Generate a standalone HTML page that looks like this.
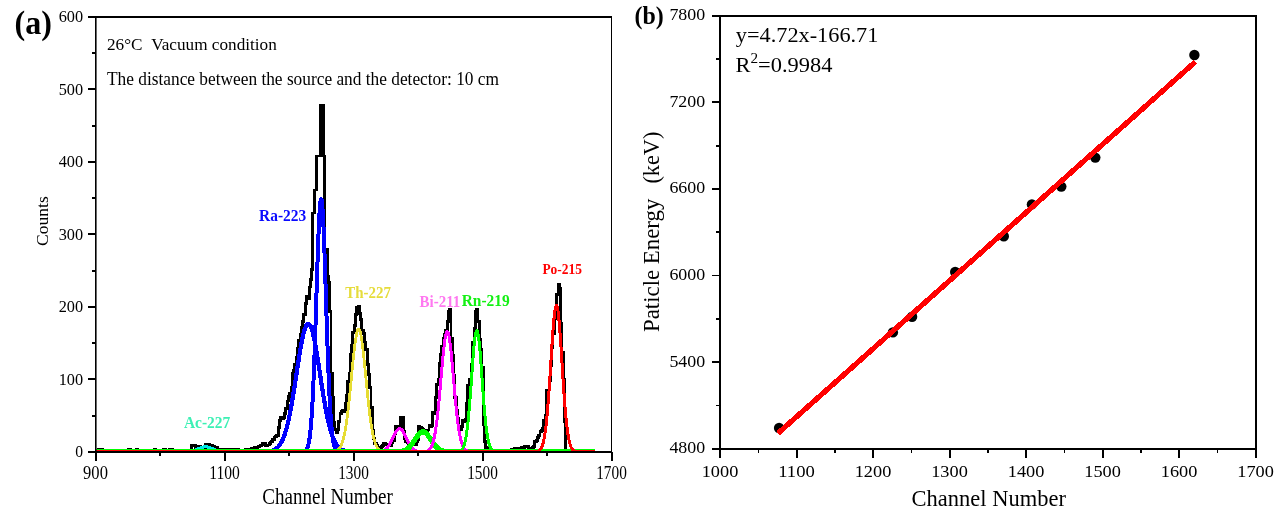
<!DOCTYPE html>
<html><head><meta charset="utf-8"><title>Alpha spectrum</title>
<style>html,body{margin:0;padding:0;background:#fff}svg{display:block}</style></head>
<body>
<svg width="1276" height="519" viewBox="0 0 1276 519">
<rect width="1276" height="519" fill="#fff"/>
<clipPath id="cl"><rect x="95" y="17" width="517" height="435.6"/></clipPath>
<g fill="none" stroke-linejoin="round" stroke-linecap="butt" clip-path="url(#cl)" shape-rendering="crispEdges">
<path d="M96.2 451.8H97.5V451.3H98.8V449.4H100.1V449.4H101.4V449.4H102.7V451.8H103.9V451.8H105.2V451.8H106.5V451.8H107.8V451.8H109.1V451.8H110.4V451.8H111.7V451.8H113.0V451.8H114.3V451.8H115.6V451.8H116.8V451.8H118.1V451.8H119.4V451.8H120.7V451.8H122.0V451.8H123.3V451.8H124.6V451.8H125.9V451.8H127.2V451.8H128.5V449.6H129.7V449.6H131.0V451.8H132.3V451.8H133.6V451.8H134.9V451.8H136.2V449.6H137.5V450.3H138.8V451.8H140.1V451.8H141.4V451.8H142.6V451.8H143.9V451.8H145.2V451.8H146.5V451.8H147.8V451.8H149.1V451.8H150.4V451.8H151.7V451.8H153.0V451.8H154.2V449.6H155.5V451.8H156.8V451.8H158.1V451.8H159.4V451.8H160.7V451.8H162.0V451.8H163.3V449.6H164.6V449.6H165.9V451.8H167.1V451.8H168.4V451.3H169.7V449.6H171.0V449.6H172.3V451.8H173.6V451.8H174.9V451.8H176.2V451.8H177.5V451.8H178.8V451.8H180.0V451.8H181.3V451.8H182.6V451.8H183.9V451.8H185.2V451.8H186.5V451.8H187.8V451.8H189.1V451.8H190.4V451.8H191.7V445.6H192.9V445.6H194.2V445.6H195.5V447.5H196.8V446.5H198.1V446.2H199.4V446.2H200.7V448.8H202.0V448.8H203.3V448.8H204.6V448.3H205.8V444.8H207.1V444.8H208.4V444.8H209.7V445.2H211.0V445.6H212.3V446.0H213.6V446.6H214.9V447.3H216.2V447.9H217.5V449.3H218.7V449.9H220.0V449.8H221.3V449.7H222.6V449.7H223.9V449.7H225.2V449.7H226.5V449.7H227.8V449.7H229.1V449.7H230.4V449.7H231.6V449.7H232.9V449.8H234.2V449.8H235.5V449.9H236.8V449.9H238.1V450.0H239.4V450.0H240.7V450.0H242.0V450.0H243.3V450.0H244.5V450.0H245.8V449.9H247.1V449.6H248.4V449.3H249.7V449.1H251.0V448.8H252.3V448.4H253.6V448.1H254.9V447.7H256.2V447.3H257.4V447.0H258.7V446.3H260.0V445.7H261.3V445.0H262.6V443.7H263.9V443.8H265.2V445.8H266.5V445.7H267.8V445.0H269.1V443.4H270.3V442.0H271.6V441.6H272.9V439.1H274.2V437.0H275.5V436.4H276.8V435.4H278.1V427.9H279.4V420.4H280.7V417.4H282.0V418.2H283.2V417.2H284.5V413.3H285.8V408.1H287.1V401.0H288.4V396.7H289.7V393.3H291.0V387.9H292.3V373.6H293.6V370.4H294.9V364.3H296.2V357.9H297.4V348.0H298.7V340.4H300.0V334.1H301.3V327.2H302.6V321.7H303.9V314.7H305.2V303.6H306.5V296.1H307.8V298.3H309.1V287.0H310.3V279.3H311.6V269.1H312.9V213.0H314.2V190.0H315.5V190.0H316.8V156.0H318.1V156.0H319.4V156.0H320.7V105.5H322.0V105.5H323.2V156.0H324.5V249.0H325.8V249.0H327.1V276.2H328.4V282.8H329.7V311.4H331.0V373.4H332.3V397.6H333.6V422.5H334.9V429.5H336.1V432.9H337.4V429.9H338.7V421.1H340.0V413.7H341.3V411.7H342.6V410.7H343.9V411.1H345.2V403.9H346.5V395.7H347.8V381.1H349.0V373.5H350.3V354.1H351.6V345.1H352.9V332.3H354.2V325.7H355.5V314.2H356.8V307.0H358.1V306.0H359.4V313.8H360.7V319.3H361.9V330.0H363.2V333.7H364.5V342.0H365.8V349.9H367.1V364.5H368.4V374.9H369.7V387.2H371.0V407.3H372.3V430.0H373.6V438.7H374.8V443.6H376.1V445.8H377.4V447.8H378.7V448.6H380.0V448.7H381.3V446.9H382.6V445.1H383.9V443.4H385.2V444.0H386.5V444.6H387.7V445.1H389.0V445.6H390.3V446.0H391.6V442.7H392.9V440.1H394.2V434.0H395.5V426.7H396.8V426.5H398.1V427.2H399.4V426.4H400.6V417.4H401.9V417.4H403.2V431.3H404.5V438.6H405.8V441.5H407.1V442.4H408.4V443.3H409.7V444.0H411.0V444.2H412.3V444.3H413.5V444.4H414.8V444.1H416.1V441.5H417.4V439.2H418.7V426.9H420.0V427.1H421.3V428.8H422.6V429.7H423.9V430.9H425.2V431.2H426.4V431.6H427.7V430.0H429.0V425.6H430.3V426.1H431.6V425.5H432.9V412.1H434.2V413.7H435.5V397.4H436.8V384.9H438.1V379.1H439.3V363.5H440.6V354.8H441.9V346.8H443.2V338.8H444.5V334.2H445.8V330.5H447.1V321.6H448.4V311.6H449.7V309.5H451.0V338.7H452.2V355.7H453.5V375.4H454.8V397.3H456.1V410.0H457.4V418.8H458.7V428.0H460.0V429.1H461.3V426.2H462.6V420.0H463.9V421.1H465.1V419.1H466.4V403.3H467.7V385.5H469.0V379.3H470.3V379.7H471.6V364.2H472.9V342.1H474.2V328.2H475.5V311.1H476.8V309.5H478.0V321.7H479.3V339.2H480.6V349.7H481.9V367.6H483.2V424.4H484.5V441.7H485.8V447.2H487.1V449.9H488.4V451.8H489.7V451.8H490.9V451.8H492.2V451.8H493.5V451.8H494.8V451.8H496.1V451.8H497.4V450.3H498.7V451.2H500.0V451.8H501.3V451.8H502.6V451.8H503.8V451.8H505.1V451.8H506.4V451.8H507.7V451.8H509.0V451.8H510.3V451.8H511.6V449.8H512.9V449.1H514.2V448.6H515.5V448.2H516.7V448.2H518.0V448.7H519.3V448.5H520.6V448.0H521.9V447.6H523.2V447.1H524.5V446.6H525.8V446.3H527.1V446.5H528.4V448.1H529.6V448.3H530.9V448.0H532.2V447.2H533.5V446.4H534.8V441.4H536.1V440.7H537.4V437.9H538.7V435.3H540.0V431.3H541.3V430.5H542.5V428.3H543.8V420.4H545.1V415.0H546.4V390.5H547.7V391.1H549.0V380.9H550.3V365.3H551.6V347.7H552.9V333.4H554.2V318.7H555.4V310.6H556.7V294.1H558.0V284.2H559.3V288.5H560.6V323.6H561.9V352.6H563.2V379.8H564.5V421.9H565.8V450.6H567.1V451.8H568.3V451.8H569.6V451.8H570.9V451.8H572.2V451.8H573.5V451.8H574.8V451.8H576.1V451.8H577.4V451.8H578.7V451.8H580.0V451.8H581.2V451.8H582.5V451.8H583.8V451.8H585.1V451.8H586.4V451.8H587.7V451.8H589.0V451.8H590.3V451.8H591.6V451.8H592.9V451.8H594.1" stroke="#000" stroke-width="2.9" stroke-linejoin="miter"/>
<path d="M95.5 451.8 L176.1 451.8 L176.6 451.8 L177.1 451.8 L177.6 451.8 L178.1 451.8 L178.6 451.8 L179.1 451.8 L179.6 451.8 L180.1 451.8 L180.6 451.8 L181.1 451.8 L181.6 451.8 L182.1 451.8 L182.6 451.8 L183.1 451.8 L183.6 451.8 L184.1 451.8 L184.6 451.7 L185.1 451.7 L185.6 451.7 L186.1 451.7 L186.6 451.7 L187.1 451.6 L187.6 451.6 L188.1 451.6 L188.6 451.5 L189.1 451.5 L189.6 451.4 L190.1 451.4 L190.6 451.3 L191.1 451.2 L191.6 451.1 L192.1 451.0 L192.6 450.9 L193.1 450.8 L193.6 450.6 L194.1 450.5 L194.6 450.3 L195.1 450.1 L195.6 450.0 L196.1 449.8 L196.6 449.6 L197.1 449.4 L197.6 449.2 L198.1 448.9 L198.6 448.7 L199.1 448.5 L199.6 448.3 L200.1 448.1 L200.6 447.9 L201.1 447.7 L201.6 447.5 L202.1 447.4 L202.6 447.2 L203.1 447.1 L203.6 447.0 L204.1 446.9 L204.6 446.8 L205.1 446.8 L205.6 446.8 L206.1 446.8 L206.6 446.9 L207.1 446.9 L207.6 447.0 L208.1 447.1 L208.6 447.3 L209.1 447.4 L209.6 447.6 L210.1 447.8 L210.6 448.0 L211.1 448.2 L211.6 448.4 L212.1 448.6 L212.6 448.8 L213.1 449.0 L213.6 449.2 L214.1 449.4 L214.6 449.7 L215.1 449.8 L215.6 450.0 L216.1 450.2 L216.6 450.4 L217.1 450.5 L217.6 450.7 L218.1 450.8 L218.6 450.9 L219.1 451.0 L219.6 451.1 L220.1 451.2 L220.6 451.3 L221.1 451.4 L221.6 451.4 L222.1 451.5 L222.6 451.5 L223.1 451.6 L223.6 451.6 L224.1 451.7 L224.6 451.7 L225.1 451.7 L225.6 451.7 L226.1 451.7 L226.6 451.7 L227.1 451.8 L227.6 451.8 L228.1 451.8 L228.6 451.8 L229.1 451.8 L229.6 451.8 L230.1 451.8 L230.6 451.8 L231.1 451.8 L231.6 451.8 L232.1 451.8 L232.6 451.8 L233.1 451.8 L233.6 451.8 L234.1 451.8 L234.6 451.8 L595.4 451.8" stroke="#00e8e8" stroke-width="3.2"/>
<path d="M95.5 451.8 L258.7 451.8 L259.2 451.8 L259.7 451.8 L260.2 451.8 L260.7 451.8 L261.2 451.8 L261.7 451.7 L262.2 451.7 L262.7 451.7 L263.2 451.7 L263.7 451.7 L264.2 451.7 L264.7 451.7 L265.2 451.6 L265.7 451.6 L266.2 451.6 L266.7 451.5 L267.2 451.5 L267.7 451.5 L268.2 451.4 L268.7 451.3 L269.2 451.3 L269.7 451.2 L270.2 451.1 L270.7 451.0 L271.2 450.9 L271.7 450.7 L272.2 450.6 L272.7 450.4 L273.2 450.3 L273.7 450.0 L274.2 449.8 L274.7 449.6 L275.2 449.3 L275.7 449.0 L276.2 448.6 L276.7 448.2 L277.2 447.8 L277.7 447.3 L278.2 446.8 L278.7 446.2 L279.2 445.6 L279.7 445.0 L280.2 444.2 L280.7 443.4 L281.2 442.6 L281.7 441.6 L282.2 440.6 L282.7 439.5 L283.2 438.4 L283.7 437.1 L284.2 435.8 L284.7 434.4 L285.2 432.8 L285.7 431.2 L286.2 429.5 L286.7 427.7 L287.2 425.8 L287.7 423.7 L288.2 421.6 L288.7 419.4 L289.2 417.1 L289.7 414.6 L290.2 412.1 L290.7 409.5 L291.2 406.8 L291.7 404.0 L292.2 401.1 L292.7 398.1 L293.2 395.1 L293.7 392.0 L294.2 388.9 L294.7 385.7 L295.2 382.4 L295.7 379.2 L296.2 375.9 L296.7 372.6 L297.2 369.3 L297.7 366.0 L298.2 362.8 L298.7 359.6 L299.2 356.5 L299.7 353.4 L300.2 350.4 L300.7 347.5 L301.2 344.8 L301.7 342.1 L302.2 339.6 L302.7 337.2 L303.2 335.0 L303.7 333.0 L304.2 331.2 L304.7 329.5 L305.2 328.0 L305.7 326.8 L306.2 325.7 L306.7 324.9 L307.2 324.3 L307.7 323.9 L308.2 323.8 L308.7 323.9 L309.2 324.2 L309.7 324.7 L310.2 325.5 L310.7 326.5 L311.2 327.7 L311.7 329.1 L312.2 330.7 L312.7 332.5 L313.2 334.5 L313.7 336.7 L314.2 339.0 L314.7 341.5 L315.2 344.1 L315.7 346.9 L316.2 349.7 L316.7 352.7 L317.2 355.7 L317.7 358.9 L318.2 362.0 L318.7 365.3 L319.2 368.5 L319.7 371.8 L320.2 375.1 L320.7 378.4 L321.2 381.6 L321.7 384.9 L322.2 388.1 L322.7 391.3 L323.2 394.4 L323.7 397.4 L324.2 400.4 L324.7 403.3 L325.2 406.1 L325.7 408.9 L326.2 411.5 L326.7 414.0 L327.2 416.5 L327.7 418.9 L328.2 421.1 L328.7 423.2 L329.2 425.3 L329.7 427.2 L330.2 429.1 L330.7 430.8 L331.2 432.5 L331.7 434.0 L332.2 435.5 L332.7 436.8 L333.2 438.1 L333.7 439.3 L334.2 440.4 L334.7 441.4 L335.2 442.4 L335.7 443.2 L336.2 444.0 L336.7 444.8 L337.2 445.5 L337.7 446.1 L338.2 446.7 L338.7 447.2 L339.2 447.7 L339.7 448.1 L340.2 448.5 L340.7 448.9 L341.2 449.2 L341.7 449.5 L342.2 449.8 L342.7 450.0 L343.2 450.2 L343.7 450.4 L344.2 450.6 L344.7 450.7 L345.2 450.8 L345.7 451.0 L346.2 451.1 L346.7 451.2 L347.2 451.2 L347.7 451.3 L348.2 451.4 L348.7 451.4 L349.2 451.5 L349.7 451.5 L350.2 451.6 L350.7 451.6 L351.2 451.6 L351.7 451.7 L352.2 451.7 L352.7 451.7 L353.2 451.7 L353.7 451.7 L354.2 451.7 L354.7 451.7 L355.2 451.8 L355.7 451.8 L356.2 451.8 L356.7 451.8 L357.2 451.8 L357.7 451.8 L595.4 451.8" stroke="#0000ff" stroke-width="4.2"/>
<path d="M95.5 451.8 L301.0 451.8 L301.5 451.7 L302.0 451.7 L302.5 451.7 L303.0 451.6 L303.5 451.5 L304.0 451.4 L304.5 451.2 L305.0 450.9 L305.5 450.6 L306.0 450.1 L306.5 449.4 L307.0 448.5 L307.5 447.4 L308.0 445.9 L308.5 444.0 L309.0 441.6 L309.5 438.6 L310.0 434.8 L310.5 430.3 L311.0 424.9 L311.5 418.4 L312.0 410.8 L312.5 402.1 L313.0 392.2 L313.5 381.0 L314.0 368.6 L314.5 355.2 L315.0 340.8 L315.5 325.6 L316.0 309.8 L316.5 293.9 L317.0 278.0 L317.5 262.6 L318.0 248.1 L318.5 234.8 L319.0 223.2 L319.5 213.5 L320.0 206.1 L320.5 201.2 L321.0 198.9 L321.5 199.4 L322.0 202.6 L322.5 208.5 L323.0 216.7 L323.5 227.1 L324.0 239.4 L324.5 253.2 L325.0 268.1 L325.5 283.7 L326.0 299.6 L326.5 315.5 L327.0 331.1 L327.5 346.0 L328.0 360.1 L328.5 373.2 L329.0 385.1 L329.5 395.9 L330.0 405.4 L330.5 413.7 L331.0 420.9 L331.5 426.9 L332.0 432.0 L332.5 436.3 L333.0 439.7 L333.5 442.5 L334.0 444.7 L334.5 446.5 L335.0 447.8 L335.5 448.9 L336.0 449.7 L336.5 450.3 L337.0 450.7 L337.5 451.0 L338.0 451.3 L338.5 451.4 L339.0 451.5 L339.5 451.6 L340.0 451.7 L340.5 451.7 L341.0 451.8 L595.4 451.8" stroke="#0000ff" stroke-width="4.0"/>
<path d="M95.5 451.8 L328.4 451.8 L328.9 451.8 L329.4 451.8 L329.9 451.8 L330.4 451.7 L330.9 451.7 L331.4 451.7 L331.9 451.7 L332.4 451.6 L332.9 451.6 L333.4 451.5 L333.9 451.5 L334.4 451.4 L334.9 451.3 L335.4 451.1 L335.9 451.0 L336.4 450.8 L336.9 450.5 L337.4 450.2 L337.9 449.9 L338.4 449.4 L338.9 448.9 L339.4 448.3 L339.9 447.7 L340.4 446.8 L340.9 445.9 L341.4 444.8 L341.9 443.6 L342.4 442.2 L342.9 440.6 L343.4 438.7 L343.9 436.7 L344.4 434.4 L344.9 431.9 L345.4 429.2 L345.9 426.2 L346.4 422.9 L346.9 419.3 L347.4 415.5 L347.9 411.5 L348.4 407.2 L348.9 402.7 L349.4 397.9 L349.9 393.1 L350.4 388.1 L350.9 383.0 L351.4 377.8 L351.9 372.6 L352.4 367.5 L352.9 362.5 L353.4 357.6 L353.9 353.0 L354.4 348.6 L354.9 344.6 L355.4 340.9 L355.9 337.7 L356.4 334.9 L356.9 332.6 L357.4 330.9 L357.9 329.7 L358.4 329.2 L358.9 329.2 L359.4 329.8 L359.9 331.0 L360.4 332.7 L360.9 335.0 L361.4 337.8 L361.9 341.1 L362.4 344.7 L362.9 348.8 L363.4 353.2 L363.9 357.8 L364.4 362.7 L364.9 367.7 L365.4 372.8 L365.9 378.0 L366.4 383.2 L366.9 388.3 L367.4 393.3 L367.9 398.1 L368.4 402.8 L368.9 407.3 L369.4 411.6 L369.9 415.7 L370.4 419.5 L370.9 423.0 L371.4 426.3 L371.9 429.3 L372.4 432.0 L372.9 434.5 L373.4 436.8 L373.9 438.8 L374.4 440.6 L374.9 442.2 L375.4 443.6 L375.9 444.9 L376.4 445.9 L376.9 446.9 L377.4 447.7 L377.9 448.4 L378.4 449.0 L378.9 449.5 L379.4 449.9 L379.9 450.2 L380.4 450.5 L380.9 450.8 L381.4 451.0 L381.9 451.1 L382.4 451.3 L382.9 451.4 L383.4 451.5 L383.9 451.5 L384.4 451.6 L384.9 451.6 L385.4 451.7 L385.9 451.7 L386.4 451.7 L386.9 451.7 L387.4 451.8 L387.9 451.8 L388.4 451.8 L595.4 451.8" stroke="#e6dc32" stroke-width="2.8"/>
<path d="M95.5 451.8 L371.9 451.8 L372.4 451.8 L372.9 451.8 L373.4 451.8 L373.9 451.8 L374.4 451.8 L374.9 451.8 L375.4 451.8 L375.9 451.8 L376.4 451.8 L376.9 451.7 L377.4 451.7 L377.9 451.7 L378.4 451.7 L378.9 451.6 L379.4 451.6 L379.9 451.5 L380.4 451.5 L380.9 451.4 L381.4 451.3 L381.9 451.2 L382.4 451.0 L382.9 450.9 L383.4 450.7 L383.9 450.4 L384.4 450.2 L384.9 449.9 L385.4 449.5 L385.9 449.1 L386.4 448.7 L386.9 448.2 L387.4 447.6 L387.9 447.0 L388.4 446.3 L388.9 445.6 L389.4 444.8 L389.9 444.0 L390.4 443.1 L390.9 442.1 L391.4 441.1 L391.9 440.1 L392.4 439.0 L392.9 438.0 L393.4 436.9 L393.9 435.9 L394.4 434.8 L394.9 433.8 L395.4 432.9 L395.9 432.0 L396.4 431.2 L396.9 430.5 L397.4 429.9 L397.9 429.4 L398.4 429.0 L398.9 428.7 L399.4 428.6 L399.9 428.6 L400.4 428.8 L400.9 429.0 L401.4 429.4 L401.9 429.9 L402.4 430.6 L402.9 431.3 L403.4 432.1 L403.9 433.0 L404.4 434.0 L404.9 435.0 L405.4 436.0 L405.9 437.0 L406.4 438.1 L406.9 439.2 L407.4 440.2 L407.9 441.2 L408.4 442.2 L408.9 443.2 L409.4 444.1 L409.9 444.9 L410.4 445.7 L410.9 446.4 L411.4 447.1 L411.9 447.7 L412.4 448.2 L412.9 448.7 L413.4 449.2 L413.9 449.6 L414.4 449.9 L414.9 450.2 L415.4 450.5 L415.9 450.7 L416.4 450.9 L416.9 451.0 L417.4 451.2 L417.9 451.3 L418.4 451.4 L418.9 451.5 L419.4 451.5 L419.9 451.6 L420.4 451.6 L420.9 451.7 L421.4 451.7 L421.9 451.7 L422.4 451.7 L422.9 451.8 L423.4 451.8 L423.9 451.8 L424.4 451.8 L424.9 451.8 L425.4 451.8 L425.9 451.8 L426.4 451.8 L426.9 451.8 L595.4 451.8" stroke="#ff00ff" stroke-width="3.2"/>
<path d="M95.5 451.8 L389.3 451.8 L389.8 451.8 L390.3 451.8 L390.8 451.8 L391.3 451.8 L391.8 451.8 L392.3 451.8 L392.8 451.8 L393.3 451.8 L393.8 451.8 L394.3 451.8 L394.8 451.8 L395.3 451.7 L395.8 451.7 L396.3 451.7 L396.8 451.7 L397.3 451.7 L397.8 451.7 L398.3 451.6 L398.8 451.6 L399.3 451.5 L399.8 451.5 L400.3 451.4 L400.8 451.4 L401.3 451.3 L401.8 451.2 L402.3 451.1 L402.8 450.9 L403.3 450.8 L403.8 450.6 L404.3 450.5 L404.8 450.3 L405.3 450.0 L405.8 449.8 L406.3 449.5 L406.8 449.2 L407.3 448.8 L407.8 448.4 L408.3 448.0 L408.8 447.6 L409.3 447.1 L409.8 446.6 L410.3 446.0 L410.8 445.4 L411.3 444.8 L411.8 444.2 L412.3 443.5 L412.8 442.8 L413.3 442.1 L413.8 441.3 L414.3 440.6 L414.8 439.8 L415.3 439.1 L415.8 438.3 L416.3 437.6 L416.8 436.8 L417.3 436.1 L417.8 435.5 L418.3 434.8 L418.8 434.3 L419.3 433.7 L419.8 433.2 L420.3 432.8 L420.8 432.5 L421.3 432.2 L421.8 432.0 L422.3 431.9 L422.8 431.8 L423.3 431.8 L423.8 431.9 L424.3 432.1 L424.8 432.4 L425.3 432.7 L425.8 433.1 L426.3 433.5 L426.8 434.0 L427.3 434.6 L427.8 435.2 L428.3 435.9 L428.8 436.6 L429.3 437.3 L429.8 438.0 L430.3 438.8 L430.8 439.5 L431.3 440.3 L431.8 441.0 L432.3 441.8 L432.8 442.5 L433.3 443.2 L433.8 443.9 L434.3 444.6 L434.8 445.2 L435.3 445.8 L435.8 446.3 L436.3 446.9 L436.8 447.4 L437.3 447.8 L437.8 448.3 L438.3 448.7 L438.8 449.0 L439.3 449.4 L439.8 449.7 L440.3 449.9 L440.8 450.2 L441.3 450.4 L441.8 450.6 L442.3 450.7 L442.8 450.9 L443.3 451.0 L443.8 451.1 L444.3 451.2 L444.8 451.3 L445.3 451.4 L445.8 451.5 L446.3 451.5 L446.8 451.6 L447.3 451.6 L447.8 451.6 L448.3 451.7 L448.8 451.7 L449.3 451.7 L449.8 451.7 L450.3 451.7 L450.8 451.8 L451.3 451.8 L451.8 451.8 L452.3 451.8 L452.8 451.8 L453.3 451.8 L453.8 451.8 L454.3 451.8 L454.8 451.8 L455.3 451.8 L455.8 451.8 L456.3 451.8 L595.4 451.8" stroke="#00ff00" stroke-width="5.2"/>
<path d="M95.5 451.8 L420.8 451.8 L421.3 451.8 L421.8 451.8 L422.3 451.8 L422.8 451.7 L423.3 451.7 L423.8 451.7 L424.3 451.6 L424.8 451.6 L425.3 451.5 L425.8 451.4 L426.3 451.3 L426.8 451.2 L427.3 451.0 L427.8 450.8 L428.3 450.5 L428.8 450.2 L429.3 449.7 L429.8 449.2 L430.3 448.6 L430.8 447.8 L431.3 446.9 L431.8 445.9 L432.3 444.6 L432.8 443.2 L433.3 441.5 L433.8 439.5 L434.3 437.3 L434.8 434.8 L435.3 432.0 L435.8 428.8 L436.3 425.4 L436.8 421.5 L437.3 417.4 L437.8 412.9 L438.3 408.1 L438.8 403.1 L439.3 397.7 L439.8 392.2 L440.3 386.6 L440.8 380.8 L441.3 375.0 L441.8 369.3 L442.3 363.7 L442.8 358.3 L443.3 353.2 L443.8 348.5 L444.3 344.3 L444.8 340.5 L445.3 337.4 L445.8 334.9 L446.3 333.1 L446.8 332.0 L447.3 331.7 L447.8 332.1 L448.3 333.3 L448.8 335.2 L449.3 337.8 L449.8 341.1 L450.3 344.9 L450.8 349.2 L451.3 354.0 L451.8 359.2 L452.3 364.6 L452.8 370.2 L453.3 376.0 L453.8 381.7 L454.3 387.5 L454.8 393.1 L455.3 398.6 L455.8 403.9 L456.3 408.9 L456.8 413.6 L457.3 418.1 L457.8 422.2 L458.3 425.9 L458.8 429.4 L459.3 432.5 L459.8 435.2 L460.3 437.7 L460.8 439.9 L461.3 441.8 L461.8 443.4 L462.3 444.9 L462.8 446.1 L463.3 447.1 L463.8 448.0 L464.3 448.7 L464.8 449.3 L465.3 449.8 L465.8 450.2 L466.3 450.6 L466.8 450.8 L467.3 451.0 L467.8 451.2 L468.3 451.3 L468.8 451.5 L469.3 451.5 L469.8 451.6 L470.3 451.7 L470.8 451.7 L471.3 451.7 L471.8 451.7 L472.3 451.8 L472.8 451.8 L473.3 451.8 L595.4 451.8" stroke="#ff00ff" stroke-width="3.0"/>
<path d="M95.5 451.8 L454.8 451.8 L455.2 451.8 L455.8 451.8 L456.2 451.7 L456.8 451.7 L457.2 451.7 L457.8 451.6 L458.2 451.6 L458.8 451.5 L459.2 451.3 L459.8 451.2 L460.2 451.0 L460.8 450.7 L461.2 450.3 L461.8 449.8 L462.2 449.2 L462.8 448.4 L463.2 447.5 L463.8 446.3 L464.2 444.8 L464.8 443.1 L465.2 441.0 L465.8 438.5 L466.2 435.7 L466.8 432.4 L467.2 428.6 L467.8 424.3 L468.2 419.6 L468.8 414.3 L469.2 408.6 L469.8 402.5 L470.2 396.1 L470.8 389.3 L471.2 382.4 L471.8 375.4 L472.2 368.4 L472.8 361.6 L473.2 355.2 L473.8 349.3 L474.2 343.9 L474.8 339.3 L475.2 335.6 L475.8 332.8 L476.2 331.1 L476.8 330.4 L477.2 330.8 L477.8 332.4 L478.2 334.9 L478.8 338.5 L479.2 342.9 L479.8 348.1 L480.2 354.0 L480.8 360.3 L481.2 367.0 L481.8 374.0 L482.2 381.0 L482.8 387.9 L483.2 394.7 L483.8 401.3 L484.2 407.4 L484.8 413.2 L485.2 418.6 L485.8 423.4 L486.2 427.8 L486.8 431.7 L487.2 435.1 L487.8 438.0 L488.2 440.5 L488.8 442.7 L489.2 444.5 L489.8 446.0 L490.2 447.2 L490.8 448.2 L491.2 449.1 L491.8 449.7 L492.2 450.2 L492.8 450.6 L493.2 450.9 L493.8 451.1 L494.2 451.3 L494.8 451.4 L495.2 451.5 L495.8 451.6 L496.2 451.7 L496.8 451.7 L497.2 451.7 L497.8 451.8 L498.2 451.8 L498.8 451.8 L595.4 451.8" stroke="#00ff00" stroke-width="3.0"/>
<path d="M95.5 451.8 L532.9 451.8 L533.4 451.8 L533.9 451.8 L534.4 451.7 L534.9 451.7 L535.4 451.7 L535.9 451.6 L536.4 451.6 L536.9 451.5 L537.4 451.3 L537.9 451.2 L538.4 451.0 L538.9 450.7 L539.4 450.4 L539.9 449.9 L540.4 449.4 L540.9 448.7 L541.4 447.8 L541.9 446.7 L542.4 445.4 L542.9 443.9 L543.4 442.0 L543.9 439.8 L544.4 437.2 L544.9 434.2 L545.4 430.7 L545.9 426.7 L546.4 422.3 L546.9 417.3 L547.4 411.8 L547.9 405.8 L548.4 399.3 L548.9 392.4 L549.4 385.1 L549.9 377.5 L550.4 369.7 L550.9 361.8 L551.4 353.9 L551.9 346.2 L552.4 338.7 L552.9 331.7 L553.4 325.3 L553.9 319.6 L554.4 314.7 L554.9 310.8 L555.4 307.9 L555.9 306.1 L556.4 305.5 L556.9 306.0 L557.4 307.7 L557.9 310.5 L558.4 314.4 L558.9 319.2 L559.4 324.8 L559.9 331.2 L560.4 338.2 L560.9 345.6 L561.4 353.3 L561.9 361.2 L562.4 369.1 L562.9 376.9 L563.4 384.5 L563.9 391.8 L564.4 398.8 L564.9 405.3 L565.4 411.4 L565.9 416.9 L566.4 421.9 L566.9 426.4 L567.4 430.4 L567.9 433.9 L568.4 437.0 L568.9 439.6 L569.4 441.8 L569.9 443.7 L570.4 445.3 L570.9 446.6 L571.4 447.7 L571.9 448.6 L572.4 449.3 L572.9 449.9 L573.4 450.3 L573.9 450.7 L574.4 451.0 L574.9 451.2 L575.4 451.3 L575.9 451.5 L576.4 451.5 L576.9 451.6 L577.4 451.7 L577.9 451.7 L578.4 451.7 L578.9 451.8 L579.4 451.8 L579.9 451.8 L595.4 451.8" stroke="#ff0000" stroke-width="3.0"/>
</g>
<g stroke="#000" fill="none" shape-rendering="crispEdges">
<path d="M95.8 16V453" stroke-width="1.6" shape-rendering="auto"/>
<path d="M611.5 16V453" stroke-width="1.2"/>
<path d="M88 16.8H612" stroke-width="2.2"/>
<path d="M88 452H612.1" stroke-width="1.8"/>
<path d="M88 379.4H95.5M88 306.9H95.5M88 234.4H95.5M88 161.9H95.5M88 89.4H95.5M91.5 415.6H95.5M91.5 343.1H95.5M91.5 270.6H95.5M91.5 198.1H95.5M91.5 125.6H95.5M91.5 53.1H95.5M95.5 452V460.6M224.5 452V460.6M353.5 452V460.6M482.5 452V460.6M611.5 452V460.6M160.0 452V456M289.0 452V456M418.0 452V456M547.0 452V456" stroke-width="2"/>
</g>
<g font-family="'Liberation Serif','Times New Roman',serif" fill="#000">
<text x="14.6" y="33.7" font-size="33.4" font-weight="bold" textLength="37.4" lengthAdjust="spacingAndGlyphs">(a)</text>
<text x="75.3" y="457.1" font-size="17.6" textLength="7.8" lengthAdjust="spacingAndGlyphs">0</text>
<text x="58.7" y="384.6" font-size="17.6" textLength="24.4" lengthAdjust="spacingAndGlyphs">100</text>
<text x="58.7" y="312.1" font-size="17.6" textLength="24.4" lengthAdjust="spacingAndGlyphs">200</text>
<text x="58.7" y="239.6" font-size="17.6" textLength="24.4" lengthAdjust="spacingAndGlyphs">300</text>
<text x="58.7" y="167.1" font-size="17.6" textLength="24.4" lengthAdjust="spacingAndGlyphs">400</text>
<text x="58.7" y="94.6" font-size="17.6" textLength="24.4" lengthAdjust="spacingAndGlyphs">500</text>
<text x="58.7" y="22.1" font-size="17.6" textLength="24.4" lengthAdjust="spacingAndGlyphs">600</text>
<text x="83.1" y="478.8" font-size="18.2" textLength="24.8" lengthAdjust="spacingAndGlyphs">900</text>
<text x="209.2" y="478.8" font-size="18.2" textLength="30.6" lengthAdjust="spacingAndGlyphs">1100</text>
<text x="338.2" y="478.8" font-size="18.2" textLength="30.6" lengthAdjust="spacingAndGlyphs">1300</text>
<text x="467.2" y="478.8" font-size="18.2" textLength="30.6" lengthAdjust="spacingAndGlyphs">1500</text>
<text x="596.2" y="478.8" font-size="18.2" textLength="30.6" lengthAdjust="spacingAndGlyphs">1700</text>
<text x="262.3" y="504.2" font-size="22.7" textLength="130.5" lengthAdjust="spacingAndGlyphs">Channel Number</text>
<text transform="translate(48.3 245.9) rotate(-90)" font-size="17.4" textLength="49.6" lengthAdjust="spacingAndGlyphs">Counts</text>
<text x="107.0" y="50.0" font-size="17.0" textLength="169.8" lengthAdjust="spacingAndGlyphs">26°C  Vacuum condition</text>
<text x="107.0" y="84.6" font-size="18.4" textLength="392.0" lengthAdjust="spacingAndGlyphs">The distance between the source and the detector: 10 cm</text>
<text x="183.9" y="427.7" font-size="17.0" font-weight="bold" fill="#3cf0b4" textLength="46.4" lengthAdjust="spacingAndGlyphs">Ac-227</text>
<text x="259.0" y="220.7" font-size="17.5" font-weight="bold" fill="#0a0aff" textLength="47.2" lengthAdjust="spacingAndGlyphs">Ra-223</text>
<text x="345.2" y="297.7" font-size="17.0" font-weight="bold" fill="#e6dc3c" textLength="45.8" lengthAdjust="spacingAndGlyphs">Th-227</text>
<text x="419.6" y="306.9" font-size="17.5" font-weight="bold" fill="#ff78f0" textLength="40.7" lengthAdjust="spacingAndGlyphs">Bi-211</text>
<text x="461.7" y="305.8" font-size="17.0" font-weight="bold" fill="#14f014" textLength="48.1" lengthAdjust="spacingAndGlyphs">Rn-219</text>
<text x="542.4" y="273.9" font-size="15.3" font-weight="bold" fill="#ff0000" textLength="39.6" lengthAdjust="spacingAndGlyphs">Po-215</text>
</g>
<g fill="#000">
<circle cx="779.1" cy="428.0" r="5.2"/>
<circle cx="892.9" cy="332.4" r="5.2"/>
<circle cx="912.1" cy="316.8" r="5.2"/>
<circle cx="955.2" cy="272.0" r="5.2"/>
<circle cx="1003.8" cy="236.2" r="5.2"/>
<circle cx="1031.9" cy="204.4" r="5.2"/>
<circle cx="1061.3" cy="186.6" r="5.2"/>
<circle cx="1095.3" cy="157.6" r="5.2"/>
<circle cx="1194.4" cy="55.0" r="5.2"/>
</g>
<path d="M778.1 433.2L1195.5 61.7" stroke="#ff0000" stroke-width="5.3" fill="none" shape-rendering="crispEdges"/>
<g stroke="#000" fill="none" shape-rendering="crispEdges">
<path d="M712.2 15.7H1257M712.2 448.8H1257" stroke-width="2.2"/>
<path d="M720.2 15V458M1255.8 15V458" stroke-width="2.2"/>
<path d="M712.2 362.1H720M712.2 275.5H720M712.2 188.9H720M712.2 102.3H720M715.8 405.4H720M715.8 318.8H720M715.8 232.2H720M715.8 145.6H720M715.8 59.0H720M796.7 449V457.5M873.2 449V457.5M949.7 449V457.5M1026.3 449V457.5M1102.8 449V457.5M1179.3 449V457.5M758.5 449V453.4M835.0 449V453.4M911.5 449V453.4M988.0 449V453.4M1064.5 449V453.4M1141.0 449V453.4M1217.5 449V453.4" stroke-width="1.8"/>
</g>
<g font-family="'Liberation Serif','Times New Roman',serif" fill="#000">
<text x="634.5" y="24.0" font-size="25.5" font-weight="bold" textLength="29.2" lengthAdjust="spacingAndGlyphs">(b)</text>
<text x="669.4" y="453.1" font-size="17.6" textLength="35.8" lengthAdjust="spacingAndGlyphs">4800</text>
<text x="669.4" y="366.5" font-size="17.6" textLength="35.8" lengthAdjust="spacingAndGlyphs">5400</text>
<text x="669.4" y="279.9" font-size="17.6" textLength="35.8" lengthAdjust="spacingAndGlyphs">6000</text>
<text x="669.4" y="193.3" font-size="17.6" textLength="35.8" lengthAdjust="spacingAndGlyphs">6600</text>
<text x="669.4" y="106.7" font-size="17.6" textLength="35.8" lengthAdjust="spacingAndGlyphs">7200</text>
<text x="669.4" y="20.1" font-size="17.6" textLength="35.8" lengthAdjust="spacingAndGlyphs">7800</text>
<text x="701.7" y="476.9" font-size="17.6" textLength="36.6" lengthAdjust="spacingAndGlyphs">1000</text>
<text x="778.2" y="476.9" font-size="17.6" textLength="36.6" lengthAdjust="spacingAndGlyphs">1100</text>
<text x="854.7" y="476.9" font-size="17.6" textLength="36.6" lengthAdjust="spacingAndGlyphs">1200</text>
<text x="931.2" y="476.9" font-size="17.6" textLength="36.6" lengthAdjust="spacingAndGlyphs">1300</text>
<text x="1007.8" y="476.9" font-size="17.6" textLength="36.6" lengthAdjust="spacingAndGlyphs">1400</text>
<text x="1084.3" y="476.9" font-size="17.6" textLength="36.6" lengthAdjust="spacingAndGlyphs">1500</text>
<text x="1160.8" y="476.9" font-size="17.6" textLength="36.6" lengthAdjust="spacingAndGlyphs">1600</text>
<text x="1237.3" y="476.9" font-size="17.6" textLength="36.6" lengthAdjust="spacingAndGlyphs">1700</text>
<text x="911.6" y="505.9" font-size="23.2" textLength="154.3" lengthAdjust="spacingAndGlyphs">Channel Number</text>
<text transform="translate(659.3 332) rotate(-90)" font-size="22.3" textLength="133.4" lengthAdjust="spacingAndGlyphs">Paticle Energy</text>
<text transform="translate(659.3 183.6) rotate(-90)" font-size="22.3" textLength="52" lengthAdjust="spacingAndGlyphs">(keV)</text>
<text x="735.8" y="42.0" font-size="21.4" textLength="142.6" lengthAdjust="spacingAndGlyphs">y=4.72x-166.71</text>
<text x="735.5" y="72.4" font-size="21.4" textLength="97" lengthAdjust="spacingAndGlyphs">R<tspan font-size="14.5" dy="-9.6">2</tspan><tspan dy="9.6">=0.9984</tspan></text>
</g>
</svg>
</body></html>
